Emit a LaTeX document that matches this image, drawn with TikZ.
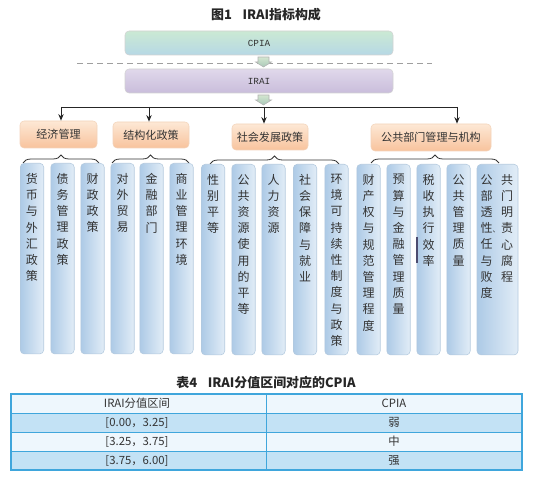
\documentclass[tikz,border=0pt]{standalone}
\usepackage{fontspec}
\setmainfont{Liberation Sans}
\newfontfamily\cjk{Noto Sans CJK SC}
\newfontfamily\monof{Liberation Mono}
\usetikzlibrary{arrows.meta,decorations.pathreplacing}
\definecolor{colL}{HTML}{ADCAE6}
\definecolor{colR}{HTML}{E2EDF7}
\definecolor{colBd}{HTML}{B3C9DE}
\definecolor{catT}{HTML}{FDE8D5}
\definecolor{catB}{HTML}{F8C39D}
\definecolor{catBd}{HTML}{F3D3BA}
\definecolor{cpT}{HTML}{CBE9D3}
\definecolor{cpB}{HTML}{B6D8E5}
\definecolor{irT}{HTML}{E0D8EB}
\definecolor{irB}{HTML}{C9BDDB}
\definecolor{tabBd}{HTML}{3FA6DC}
\definecolor{tabA}{HTML}{EEF7FD}
\definecolor{tabB}{HTML}{C3E2F5}
\definecolor{txt}{HTML}{333333}
\definecolor{blkT}{HTML}{D3E6D0}
\definecolor{blkB}{HTML}{A9C8B8}
\newcommand\blkarrow[2]{%
  \path[blk] ({#1-5.5},{#2}) -- ({#1+5.5},{#2}) -- ({#1+5.5},{#2+5}) -- ({#1+8},{#2+5})
    -- ({#1},{#2+10}) -- ({#1-8},{#2+5}) -- ({#1-5.5},{#2+5}) -- cycle;}
\begin{document}
\begin{tikzpicture}[x=0.75pt,y=-0.75pt,
 topbox/.style={rounded corners=3pt, draw=gray!35, minimum width=201pt, minimum height=18pt, inner sep=0pt, font=\monof\fontsize{7}{8}\selectfont, text=txt},
 catbox/.style={rounded corners=3pt, draw=catBd, top color=catT, bottom color=catB, minimum height=20pt, inner sep=0pt, font=\cjk\fontsize{8.3}{10}\selectfont, text=txt},
 colbox/.style={rounded corners=3pt, draw=colBd, left color=colL, right color=colR, minimum width=17.6pt, minimum height=143pt, inner sep=0pt, anchor=north},
 coltext/.style={anchor=north, align=center, inner sep=0pt, font=\cjk\fontsize{9}{12.15}\selectfont, text=txt},
 arr/.style={-{Stealth[length=5pt,width=4pt]}, line width=0.7pt, draw=black!85},
 brc/.style={decorate, decoration={brace, amplitude=6pt}, line width=0.6pt, draw=black!80},
 blk/.style={draw=gray!60, top color=blkT, bottom color=blkB, line width=0.4pt},
 tabtext/.style={font=\cjk\fontsize{8.5}{10}\selectfont, text=txt, inner sep=0pt},
 ttl/.style={font=\cjk\bfseries\fontsize{9.7}{12}\selectfont, text=black!85},
]
\useasboundingbox (0,0) rectangle (535,491);

% title
\node[ttl] (title) at (266,15) {图1\hspace{8pt}IRAI指标构成};

% top boxes
\node[topbox, top color=cpT, bottom color=cpB] (cpia) at (259,43) {CPIA};
\draw[dashed, dash pattern=on 4.5pt off 3pt, draw=gray!75, line width=0.6pt] (77,63) -- (432,63);
\node[topbox, top color=irT, bottom color=irB] (irai) at (259,81) {IRAI};
\blkarrow{263.5}{57}
\blkarrow{263.5}{95}

% categories
\node[catbox, minimum width=57.75pt, minimum height=20.25pt] (c1) at (58.5,134.5) {经济管理};
\node[catbox, minimum width=57pt, minimum height=19.5pt] (c2) at (151,135) {结构化政策};
\node[catbox, minimum width=57pt, minimum height=19.5pt] (c3) at (270,137) {社会发展政策};
\node[catbox, minimum width=90pt, minimum height=20.25pt] (c4) at (431,137.5) {公共部门管理与机构};

% connectors
\coordinate (a1) at (61,107);
\coordinate (a2) at (149,107);
\coordinate (a3) at (264,107);
\coordinate (a4) at (457,107);
\draw[line width=0.7pt, draw=black!85] (a1) -- (a4);
\draw[arr] (a1) -- (a1 |- c1.north);
\draw[arr] (a2) -- (a2 |- c2.north);
\draw[arr] (a3) -- (a3 |- c3.north);
\draw[arr] (a4) -- (a4 |- c4.north);

% braces
\draw[brc] (23,163) -- (99,163);
\draw[brc] (112,163) -- (189,163);
\draw[brc] (210,164) -- (339,164);
\draw[brc] (371,163) -- (499,163);

% columns
\node[colbox] (k1) at (32,163) {};
\node[colbox] (k2) at (62.5,163) {};
\node[colbox] (k3) at (92.5,163) {};
\node[colbox] (k4) at (122.5,163) {};
\node[colbox] (k5) at (151.5,163) {};
\node[colbox] (k6) at (181.5,163) {};
\node[colbox] (k7) at (213,164) {};
\node[colbox] (k8) at (243.5,164) {};
\node[colbox] (k9) at (273.5,164) {};
\node[colbox] (k10) at (305,164) {};
\node[colbox] (k11) at (336.5,164) {};
\node[colbox] (k12) at (368.5,164) {};
\node[colbox] (k13) at (398.5,164) {};
\node[colbox] (k14) at (428.5,164) {};
\node[colbox] (k15) at (458.5,164) {};
\node[colbox, minimum width=30.75pt] (k16) at (497.5,164) {};

\node[coltext] at (32,173) {货\\币\\与\\外\\汇\\政\\策};
\node[coltext] at (62.5,173) {债\\务\\管\\理\\政\\策};
\node[coltext] at (92.5,173) {财\\政\\政\\策};
\node[coltext] at (122.5,173) {对\\外\\贸\\易};
\node[coltext] at (151.5,173) {金\\融\\部\\门};
\node[coltext] at (181.5,173) {商\\业\\管\\理\\环\\境};
\node[coltext] at (213,174) {性\\别\\平\\等};
\node[coltext] at (243.5,174) {公\\共\\资\\源\\使\\用\\的\\平\\等};
\node[coltext] at (273.5,174) {人\\力\\资\\源};
\node[coltext] at (305,174) {社\\会\\保\\障\\与\\就\\业};
\node[coltext] at (336.5,174) {环\\境\\可\\持\\续\\性\\制\\度\\与\\政\\策};
\node[coltext] at (368.5,174) {财\\产\\权\\与\\规\\范\\管\\理\\程\\度};
\node[coltext] at (398.5,174) {预\\算\\与\\金\\融\\管\\理\\质\\量};
\node[coltext] at (428.5,174) {税\\收\\执\\行\\效\\率};
\node[coltext] at (458.5,174) {公\\共\\管\\理\\质\\量};
\node[coltext] at (486.5,174) {公\\部\\透\\性\rlap{\fontsize{5.5}{6}\selectfont 、}\\任\\与\\败\\度};
\node[coltext] at (507,174) {共\\门\\明\\责\\心\\腐\\程};
\draw[line width=1.5pt, draw=black!65!blue!40!gray] (416.5,237) -- (416.5,263);

% table
\node[ttl] (ttitle) at (266,383) {表4\hspace{8pt}IRAI分值区间对应的CPIA};
\fill[tabA] (11,394) rectangle (522,413);
\fill[tabB] (11,413) rectangle (522,432);
\fill[tabA] (11,432) rectangle (522,451);
\fill[tabB] (11,451) rectangle (522,470);
\draw[tabBd, line width=0.6pt] (11,413) -- (522,413) (11,432) -- (522,432) (11,451) -- (522,451) (266,394) -- (266,470);
\draw[tabBd, line width=1pt] (11,394) rectangle (522,470);
\node[tabtext] (h1) at (137,403.5) {IRAI分值区间};
\node[tabtext] (h2) at (394,403.5) {CPIA};
\node[tabtext] (r11) at (137,422.5) {[0.00，3.25]};
\node[tabtext] (r12) at (394,422.5) {弱};
\node[tabtext] (r21) at (137,441.5) {[3.25，3.75]};
\node[tabtext] (r22) at (394,441.5) {中};
\node[tabtext] (r31) at (137,460.5) {[3.75，6.00]};
\node[tabtext] (r32) at (394,460.5) {强};
\end{tikzpicture}
\end{document}
